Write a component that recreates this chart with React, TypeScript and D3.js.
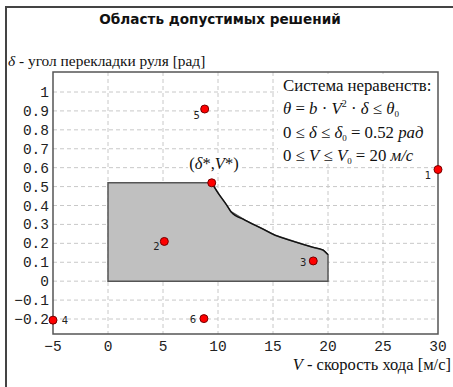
import React from 'react';
import * as d3 from 'd3';

// axis ticks
const xTicks = [-5, 0, 5, 10, 15, 20, 25, 30];
const yTicks = [-0.2, -0.1, 0, 0.1, 0.2, 0.3, 0.4, 0.5, 0.6, 0.7, 0.8, 0.9, 1];

// boundary of the feasible region (V, delta)
const regionV = [0, 0, 9.43, 10.03, 10.79, 11.18, 12.45, 13.97, 15.18, 17.0, 18.52, 19.57, 20.0, 20.0];
const regionDelta = [0, 0.52, 0.52, 0.464, 0.402, 0.367, 0.323, 0.279, 0.243, 0.208, 0.181, 0.164, 0.14, 0];

// test points
const pointV = [30, 5.12, 18.66, -5, 8.79, 8.72];
const pointDelta = [0.59, 0.21, 0.107, -0.206, 0.91, -0.198];
const pointLabels = ['1', '2', '3', '4', '5', '6'];
const labelOffsets = [[-10, 9], [-8, 9], [-10, 5], [12, 4], [-8, 10], [-11, 4]];

// optimum
const starV = 9.43;
const starDelta = 0.52;

export default function App() {
  const width = 453;
  const height = 387;
  const marginLeft = 53;
  const marginRight = 438;
  const marginTop = 72;
  const marginBottom = 334;

  const x = d3.scaleLinear().domain([-5, 30]).range([marginLeft, marginRight]);
  const y = d3.scaleLinear().domain([-0.2, 1]).range([319, 92]);

  const region = d3.range(regionV.length).map((i) => [regionV[i], regionDelta[i]] as [number, number]);
  const area = d3
    .line<[number, number]>()
    .x((d) => x(d[0]))
    .y((d) => y(d[1]));
  // curved part of the boundary, from the optimum to V0
  const curve = d3
    .line<[number, number]>()
    .curve(d3.curveMonotoneX)
    .x((d) => x(d[0]))
    .y((d) => y(d[1]));

  const mono = '"Liberation Mono", "Courier New", monospace';
  const serif = '"Liberation Serif", "Times New Roman", serif';
  const fmt = (v: number) => (v < 0 ? '\u2212' : '') + d3.format('~g')(Math.abs(+v.toFixed(2)));

  return (
    <svg width={width} height={height} style={{ position: 'absolute', left: 0, top: 0, background: '#fff' }}>
      <rect x={6} y={7} width={480} height={420} fill="#fff" stroke="#444" strokeWidth={2} />

      <text x={220} y={24} textAnchor="middle" fontFamily='"DejaVu Sans", Verdana, sans-serif' fontWeight="bold" fontSize={13.6} fill="#111">
        Область допустимых решений
      </text>

      <text x={8} y={66} fontFamily={serif} fontSize={15.4} fill="#111">
        <tspan fontStyle="italic">δ</tspan> - угол перекладки руля [рад]
      </text>

      {/* grid */}
      <g stroke="#c8c8c8" strokeDasharray="4,3" strokeWidth={1}>
        {xTicks.slice(1, -1).map((t) => (
          <line key={'gx' + t} x1={x(t)} x2={x(t)} y1={marginTop} y2={marginBottom} />
        ))}
        {yTicks.map((t) => (
          <line key={'gy' + t} x1={marginLeft} x2={marginRight} y1={y(t)} y2={y(t)} />
        ))}
      </g>

      {/* feasible region */}
      <path d={area(region) + 'Z'} fill="#c0c0c0" stroke="#555" strokeWidth={1.5} />
      <path d={curve(region.slice(2, 13)) || ''} fill="none" stroke="#111" strokeWidth={1.3} />

      {/* inequality box */}
      <rect x={278} y={74} width={159} height={90} fill="#fff" />
      <g fontFamily={serif} fontSize={16.8} fill="#111">
        <text x={283} y={91}>Система неравенств:</text>
        <text x={283} y={114}>
          <tspan fontStyle="italic">θ</tspan> = <tspan fontStyle="italic">b</tspan> · <tspan fontStyle="italic">V</tspan>
          <tspan dy={-7} fontSize={10}>2</tspan>
          <tspan dy={7}> · </tspan>
          <tspan fontStyle="italic">δ</tspan> ≤ <tspan fontStyle="italic">θ</tspan>
          <tspan dy={3} fontSize={9}>0</tspan>
        </text>
        <text x={283} y={138}>
          0 ≤ <tspan fontStyle="italic">δ</tspan> ≤ <tspan fontStyle="italic">δ</tspan>
          <tspan dy={3} fontSize={9}>0</tspan>
          <tspan dy={-3}> = 0.52 </tspan>
          <tspan fontStyle="italic">рад</tspan>
        </text>
        <text x={283} y={161}>
          0 ≤ <tspan fontStyle="italic">V</tspan> ≤ <tspan fontStyle="italic">V</tspan>
          <tspan dy={3} fontSize={9}>0</tspan>
          <tspan dy={-3}> = 20 </tspan>
          <tspan fontStyle="italic">м/с</tspan>
        </text>
      </g>

      {/* plot frame */}
      <rect x={marginLeft} y={marginTop} width={marginRight - marginLeft} height={marginBottom - marginTop} fill="none" stroke="#555" strokeWidth={1.5} />

      {/* tick labels */}
      <g fontFamily={mono} fontSize={14.5} fill="#222">
        {yTicks.map((t) => (
          <text key={'ty' + t} x={49} y={y(t) + 5} textAnchor="end">
            {fmt(t)}
          </text>
        ))}
        {xTicks.map((t) => (
          <text key={'tx' + t} x={x(t)} y={351} textAnchor="middle">
            {fmt(t)}
          </text>
        ))}
      </g>

      <text x={451} y={370} textAnchor="end" fontFamily={serif} fontSize={16.5} fill="#111">
        <tspan fontStyle="italic">V</tspan> - скорость хода [м/с]
      </text>

      {/* optimum label */}
      <rect x={188} y={155} width={54} height={18} fill="#fff" />
      <text x={214} y={169} textAnchor="middle" fontFamily={serif} fontSize={16.5} fill="#111">
        (<tspan fontStyle="italic">δ</tspan>*,<tspan fontStyle="italic">V</tspan>*)
      </text>

      {/* points */}
      <g>
        {pointV.map((v, i) => (
          <g key={'p' + i}>
            <circle cx={x(v)} cy={y(pointDelta[i])} r={4} fill="#f00" stroke="#700" strokeWidth={1} />
            <text
              x={x(v) + labelOffsets[i][0]}
              y={y(pointDelta[i]) + labelOffsets[i][1]}
              textAnchor="middle"
              fontFamily='"DejaVu Sans", sans-serif'
              fontSize={10}
              fill="#222"
            >
              {pointLabels[i]}
            </text>
          </g>
        ))}
        <circle cx={x(starV)} cy={y(starDelta)} r={4} fill="#f00" stroke="#700" strokeWidth={1} />
      </g>
    </svg>
  );
}
